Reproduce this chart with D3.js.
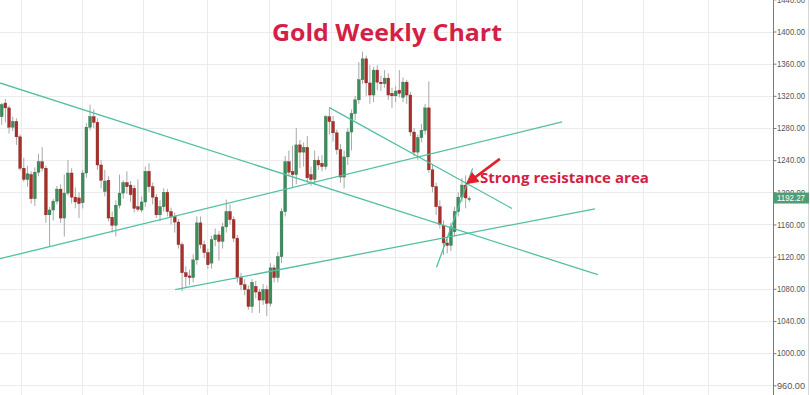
<!DOCTYPE html>
<html>
<head>
<meta charset="utf-8">
<script src="https://cdn.jsdelivr.net/npm/d3@7"></script>
<style>
  html, body { margin: 0; padding: 0; background: #fff; }
  svg { display: block; }
</style>
</head>
<body>
<div class="goldChart"></div>
<script>
// weekly candles (oldest first)
const opens = [1294,1311,1305,1281,1288,1269,1230,1216,1222,1192,1225,1238,1230,1172,1178,1189,1204,1168,1199,1224,
  1194,1193,1187,1224,1281,1294,1287,1234,1201,1215,1169,1159,1184,1199,1212,1209,1205,1182,1178,1188,
  1226,1207,1194,1172,1182,1200,1176,1170,1163,1135,1100,1096,1094,1116,1162,1135,1125,1112,1141,1147,
  1139,1157,1176,1166,1143,1094,1085,1079,1058,1083,1076,1066,1079,1062,1106,1094,1120,1176,1238,1226,
  1222,1259,1250,1256,1222,1216,1240,1236,1232,1294,1288,1274,1253,1219,1244,1275,1298,1315,1340,1366,
  1336,1321,1352,1337,1335,1342,1323,1320,1327,1318,1337,1321,1275,1250,1268,1277,1305,1228,1207,1182,
  1159,1137,1134,1151,1176,1194,1209,1191]
const highs = [1311,1316,1308,1294,1292,1272,1243,1233,1226,1231,1248,1256,1233,1182,1192,1208,1210,1222,1240,1230,
  1206,1200,1228,1286,1309,1303,1292,1240,1228,1220,1176,1190,1222,1215,1226,1214,1209,1216,1195,1232,
  1236,1212,1198,1190,1205,1204,1181,1175,1167,1138,1108,1104,1123,1170,1170,1140,1130,1146,1155,1152,
  1162,1191,1185,1170,1147,1100,1092,1084,1092,1090,1080,1086,1084,1112,1110,1126,1180,1245,1252,1258,
  1280,1265,1262,1270,1232,1252,1245,1246,1296,1306,1295,1278,1260,1252,1280,1303,1320,1362,1375,1370,
  1358,1356,1358,1345,1352,1348,1330,1332,1352,1343,1340,1325,1280,1272,1285,1310,1338,1235,1212,1190,
  1165,1142,1162,1182,1200,1218,1221,1195]
const lows = [1284,1287,1273,1276,1259,1227,1213,1207,1186,1183,1220,1226,1162,1132,1165,1185,1162,1145,1196,1186,
  1180,1168,1180,1218,1277,1280,1228,1205,1195,1164,1150,1145,1180,1192,1198,1188,1175,1176,1175,1182,
  1200,1185,1168,1164,1176,1170,1160,1150,1130,1077,1082,1085,1088,1110,1130,1118,1105,1105,1133,1115,
  1130,1150,1160,1138,1088,1078,1072,1054,1050,1068,1050,1060,1046,1058,1088,1088,1112,1170,1220,1205,
  1210,1230,1232,1212,1208,1210,1228,1226,1228,1272,1263,1247,1212,1205,1234,1252,1290,1310,1335,1320,
  1310,1312,1327,1326,1330,1315,1305,1312,1318,1312,1310,1270,1245,1240,1262,1272,1224,1200,1172,1155,
  1122,1124,1127,1145,1170,1188,1180,1188]
const closes = [1309,1305,1281,1288,1269,1230,1216,1223,1192,1225,1238,1230,1172,1178,1189,1204,1168,1199,1224,1194,
  1188,1186,1224,1281,1294,1287,1234,1215,1214,1168,1159,1184,1199,1212,1207,1197,1180,1179,1188,1226,
  1207,1194,1172,1182,1200,1176,1170,1163,1135,1100,1095,1094,1116,1162,1135,1125,1110,1141,1147,1139,
  1157,1176,1166,1143,1094,1085,1079,1058,1088,1076,1066,1079,1062,1106,1094,1120,1176,1238,1225,1222,
  1259,1250,1256,1218,1216,1240,1234,1232,1294,1288,1274,1253,1219,1244,1275,1298,1315,1340,1366,1336,
  1321,1352,1337,1335,1342,1321,1320,1326,1323,1337,1321,1275,1250,1268,1277,1305,1228,1207,1182,1160,
  1137,1134,1157,1176,1194,1209,1193,1192.27]

const lastPrice = 1192.27
const priceTicks = [960, 1000, 1040, 1080, 1120, 1160, 1200, 1240, 1280, 1320, 1360, 1400, 1440]
// time grid lines, in weeks from the first candle
const gridWeeks = [5.2, 21.8, 38.4, 55.8, 72.6, 89.4, 106.8, 123.4, 140, 157.6, 174.2, 191.8]

// hand drawn trend lines: [week, price, week, price]
const trendLines = [
  [-0.5, 1336, 161.9, 1097.5],
  [-0.5, 1117.4, 152.2, 1287.6],
  [47.1, 1078.9, 161.1, 1179.5],
  [89.0, 1305.3, 138.6, 1179.9],
  [118.1, 1106.8, 127.9, 1229.8]
]
const arrow = [135.3, 1241.6, 126.6, 1211.8]
const note = {text: "Strong resistance area", week: 129.9, price: 1211.6}
const title = "Gold Weekly Chart"

const width = 810
const height = 395
const axisX = 773

const candles = closes.map((c, i) => ({i, o: opens[i], h: highs[i], l: lows[i], c}))

const svg = d3.select(".goldChart")
  .append("svg")
  .attr("width", width)
  .attr("height", height)

const x = d3.scaleLinear()
  .domain([0, candles.length - 1])
  .range([1.7, 469.3])

const y = d3.scaleLinear()
  .domain([960, 1400])
  .range([385.3, 31.5])

// grid
svg.append("g")
  .selectAll("line")
  .data(priceTicks)
  .join("line")
  .attr("x1", 0)
  .attr("x2", axisX)
  .attr("y1", d => Math.round(y(d)) + 0.5)
  .attr("y2", d => Math.round(y(d)) + 0.5)
  .attr("stroke", "#ebebeb")

svg.append("g")
  .selectAll("line")
  .data(gridWeeks)
  .join("line")
  .attr("x1", d => Math.round(x(d)) + 0.5)
  .attr("x2", d => Math.round(x(d)) + 0.5)
  .attr("y1", 0)
  .attr("y2", height)
  .attr("stroke", "#ebebeb")

// candles
const candle = svg.append("g")
  .selectAll("g")
  .data(candles)
  .join("g")

candle.append("line")
  .attr("x1", d => x(d.i))
  .attr("x2", d => x(d.i))
  .attr("y1", d => y(d.h))
  .attr("y2", d => y(d.l))
  .attr("stroke", "#a8a8a8")
  .attr("stroke-width", 1)

candle.append("rect")
  .attr("x", d => x(d.i) - 1.4)
  .attr("y", d => y(Math.max(d.o, d.c)))
  .attr("width", 2.8)
  .attr("height", d => Math.max(1, Math.abs(y(d.o) - y(d.c))))
  .attr("fill", d => d.c >= d.o ? "#3f8c5b" : "#a9302a")
  .attr("stroke", d => d.c >= d.o ? "#2f6d46" : "#82231e")
  .attr("stroke-width", 0.4)

// trend lines
svg.append("g")
  .selectAll("line")
  .data(trendLines)
  .join("line")
  .attr("x1", d => x(d[0]))
  .attr("y1", d => y(d[1]))
  .attr("x2", d => x(d[2]))
  .attr("y2", d => y(d[3]))
  .attr("stroke", "#52bfa3")
  .attr("stroke-width", 1.3)

// red arrow pointing at the resistance
svg.append("defs").append("marker")
  .attr("id", "head")
  .attr("viewBox", "0 0 10 10")
  .attr("refX", 8)
  .attr("refY", 5)
  .attr("markerWidth", 4.8)
  .attr("markerHeight", 4.8)
  .attr("orient", "auto")
  .append("path")
  .attr("d", "M0,0L10,5L0,10z")
  .attr("fill", "#e0202a")

svg.append("line")
  .attr("x1", x(arrow[0]))
  .attr("y1", y(arrow[1]))
  .attr("x2", x(arrow[2]))
  .attr("y2", y(arrow[3]))
  .attr("stroke", "#e0202a")
  .attr("stroke-width", 2.6)
  .attr("marker-end", "url(#head)")

svg.append("text")
  .attr("x", x(note.week))
  .attr("y", y(note.price))
  .attr("font-family", "'Open Sans', 'DejaVu Sans', sans-serif")
  .attr("font-weight", 700)
  .attr("font-size", 14)
  .attr("textLength", 169)
  .attr("lengthAdjust", "spacingAndGlyphs")
  .attr("fill", "#d21f45")
  .text(note.text)

svg.append("text")
  .attr("x", 272)
  .attr("y", 40.5)
  .attr("font-family", "'Open Sans', 'DejaVu Sans', sans-serif")
  .attr("font-weight", 700)
  .attr("font-size", 22.5)
  .attr("textLength", 230)
  .attr("lengthAdjust", "spacingAndGlyphs")
  .attr("fill", "#d41f47")
  .text(title)

// price axis on the right
svg.append("rect")
  .attr("x", axisX)
  .attr("y", 0)
  .attr("width", width - axisX)
  .attr("height", height)
  .attr("fill", "#fff")

svg.append("line")
  .attr("x1", axisX + 0.5)
  .attr("x2", axisX + 0.5)
  .attr("y1", 0)
  .attr("y2", height)
  .attr("stroke", "#7a7a7a")

svg.append("line")
  .attr("x1", 808.5)
  .attr("x2", 808.5)
  .attr("y1", 0)
  .attr("y2", height)
  .attr("stroke", "#d8d8d8")

const axis = svg.append("g")
  .attr("transform", `translate(${axisX + 0.5},0)`)
  .call(d3.axisRight(y)
    .tickValues(priceTicks)
    .tickFormat(d3.format(".2f"))
    .tickSize(3)
    .tickSizeOuter(0)
    .tickPadding(0.5))

axis.select(".domain").remove()
axis.selectAll(".tick line").attr("stroke", "#7a7a7a")
axis.selectAll(".tick text")
  .attr("fill", "#555")
  .attr("font-family", "'Liberation Sans', Arial, sans-serif")
  .attr("font-size", 8.8)
  .attr("textLength", 28)
  .attr("lengthAdjust", "spacingAndGlyphs")

// last price tag
svg.append("rect")
  .attr("x", axisX + 1)
  .attr("y", y(lastPrice) - 6)
  .attr("width", 35)
  .attr("height", 11)
  .attr("fill", "#4f9d72")

svg.append("text")
  .attr("x", axisX + 4)
  .attr("y", y(lastPrice) - 0.5)
  .attr("dy", "0.32em")
  .attr("fill", "#fff")
  .attr("font-family", "'Liberation Sans', Arial, sans-serif")
  .attr("font-size", 8.8)
  .attr("textLength", 28)
  .attr("lengthAdjust", "spacingAndGlyphs")
  .text(lastPrice.toFixed(2))
</script>
</body>
</html>
